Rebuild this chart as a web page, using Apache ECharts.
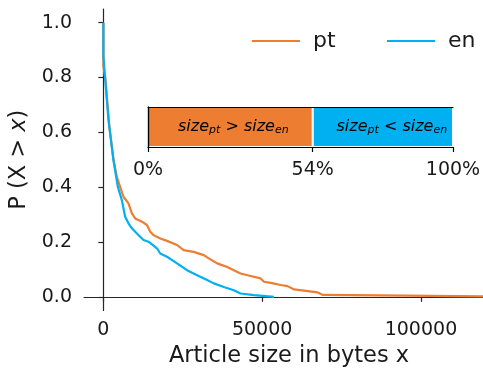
<!DOCTYPE html>
<html>
<head>
<meta charset="utf-8">
<script src="https://cdn.jsdelivr.net/npm/echarts@6/dist/echarts.min.js"></script>
<style>
  html, body { margin: 0; padding: 0; background: #fff; }
  #chart { width: 483px; height: 371px; }
</style>
</head>
<body>
<div id="chart"></div>
<script>
// Survival function P(X > x) of article sizes (bytes) for pt and en
const ptSize = [0, 0, 0, 600, 1900, 3200, 3700, 4230, 5280, 6320, 7900, 8970, 10020, 12140, 13720, 14760, 15800, 17920, 20030, 23200, 25280, 28440, 31600, 33190, 35840, 39000, 41090, 43200, 46370, 49530, 50570, 52650, 55850, 58000, 60040, 67450, 69030, 95000, 122000];
const ptProb = [1.0, 0.876, 0.84, 0.80, 0.62, 0.50, 0.47, 0.438, 0.401, 0.365, 0.341, 0.304, 0.286, 0.274, 0.262, 0.237, 0.225, 0.213, 0.204, 0.189, 0.170, 0.164, 0.152, 0.140, 0.122, 0.109, 0.097, 0.085, 0.076, 0.067, 0.055, 0.051, 0.043, 0.039, 0.027, 0.016, 0.007, 0.004, 0.001];

const enSize = [0, 0, 540, 1600, 3160, 4550, 5800, 6860, 7900, 8970, 10560, 12640, 14220, 16880, 17920, 20030, 23200, 26350, 29520, 32680, 34770, 37930, 41090, 43200, 47400, 53730];
const enProb = [1.0, 0.876, 0.874, 0.645, 0.499, 0.401, 0.353, 0.292, 0.268, 0.250, 0.231, 0.207, 0.201, 0.177, 0.158, 0.146, 0.122, 0.097, 0.079, 0.061, 0.049, 0.036, 0.024, 0.012, 0.006, 0.0];

const yTicks = [0, 0.2, 0.4, 0.6, 0.8, 1.0];
const xTicks = [0, 50000, 100000];

// Share of article pairs where one edition is longer than the other (%)
const shareLabels = ['pt', 'en'];
const shareValues = [54, 46];
const shareTicks = [0, 54, 100];

const ORANGE = '#ED7D31';
const BLUE = '#00B0F0';
const INK = '#1a1a1a';
const FONT = 'DejaVu Sans';

const pairs = (xs, ys) => xs.map((x, i) => [x, ys[i]]);

const legendIcon = 'path://M0,0 L48,0 L48,2 L0,2 Z';
const legendBase = {
  top: 25, itemWidth: 48, itemHeight: 2, icon: legendIcon,
  textStyle: { fontFamily: FONT, fontSize: 22, color: INK, padding: [0, 0, 0, 8] },
  selectedMode: false
};

const subRich = {
  i: { fontFamily: FONT, fontStyle: 'italic', fontSize: 16, color: '#000' },
  s: { fontFamily: FONT, fontStyle: 'italic', fontSize: 11, color: '#000', verticalAlign: 'bottom', padding: [7, 0, 0, 0] }
};

const chart = echarts.init(document.getElementById('chart'), null, { renderer: 'canvas' });

chart.setOption({
  animation: false,
  backgroundColor: '#fff',
  textStyle: { fontFamily: FONT },
  legend: [
    Object.assign({ left: 247, data: ['pt'] }, legendBase),
    Object.assign({ left: 382, data: ['en'] }, legendBase)
  ],
  grid: [
    { left: 84, top: 9, right: -11, bottom: 60.5, containLabel: false, outerBoundsMode: 'none' },
    { left: 148, top: 107, width: 305, height: 40, containLabel: false, outerBoundsMode: 'none' }
  ],
  xAxis: [
    {
      gridIndex: 0, type: 'value', min: -6100, max: 123000,
      name: 'Article size in bytes x', nameLocation: 'middle', nameGap: 33,
      nameTextStyle: { fontFamily: FONT, fontSize: 22.5, color: INK },
      axisLine: { show: true, lineStyle: { color: '#262626', width: 1.2 } },
      axisTick: { show: true, length: 5, customValues: xTicks, lineStyle: { color: '#262626', width: 1.2 } },
      axisLabel: { customValues: xTicks, fontFamily: FONT, fontSize: 19, color: INK, margin: 10, formatter: v => String(v) },
      splitLine: { show: false }
    },
    {
      gridIndex: 1, type: 'value', min: 0, max: 100, position: 'bottom', z: 10,
      axisLine: { show: true, lineStyle: { color: '#000', width: 1.2 } },
      axisTick: { show: true, length: 5, customValues: shareTicks, lineStyle: { color: '#000', width: 1.2 } },
      axisLabel: { customValues: shareTicks, fontFamily: FONT, fontSize: 19, color: INK, margin: 14, formatter: v => v + '%' },
      splitLine: { show: false }
    },
    {
      gridIndex: 1, type: 'value', min: 0, max: 100, position: 'top', z: 10,
      axisLine: { show: true, lineStyle: { color: '#000', width: 1.2 } },
      axisTick: { show: false }, axisLabel: { show: false }, splitLine: { show: false }
    }
  ],
  yAxis: [
    {
      gridIndex: 0, type: 'value', min: -0.05, max: 1.05,
      name: '{n|P (X > }{it|x}{n|)}', nameLocation: 'middle', nameGap: 46, nameRotate: 90,
      nameTextStyle: {
        rich: {
          n: { fontFamily: FONT, fontSize: 22.5, color: INK },
          it: { fontFamily: FONT, fontSize: 22.5, fontStyle: 'italic', color: INK }
        }
      },
      axisLine: { show: true, lineStyle: { color: '#262626', width: 1.2 } },
      axisTick: { show: true, length: 5, customValues: yTicks, lineStyle: { color: '#262626', width: 1.2 } },
      axisLabel: { customValues: yTicks, fontFamily: FONT, fontSize: 19, color: INK, margin: 12, formatter: v => v.toFixed(1) },
      splitLine: { show: false }
    },
    {
      gridIndex: 1, type: 'category', data: ['share'], position: 'left', z: 10,
      axisLine: { show: true, lineStyle: { color: '#000', width: 1.2 } },
      axisTick: { show: false }, axisLabel: { show: false }, splitLine: { show: false }
    },
    {
      gridIndex: 1, type: 'category', data: ['share'], position: 'right', z: 10,
      axisLine: { show: true, lineStyle: { color: '#000', width: 1.2 } },
      axisTick: { show: false }, axisLabel: { show: false }, splitLine: { show: false }
    }
  ],
  series: [
    {
      name: 'pt', type: 'line', xAxisIndex: 0, yAxisIndex: 0,
      data: pairs(ptSize, ptProb), showSymbol: false, symbol: 'none',
      lineStyle: { color: ORANGE, width: 2.2 }, itemStyle: { color: ORANGE }, z: 2
    },
    {
      name: 'en', type: 'line', xAxisIndex: 0, yAxisIndex: 0,
      data: pairs(enSize, enProb), showSymbol: false, symbol: 'none',
      lineStyle: { color: BLUE, width: 2.2 }, itemStyle: { color: BLUE }, z: 3
    },
    {
      name: shareLabels[0] + ' share', type: 'bar', stack: 'share', xAxisIndex: 1, yAxisIndex: 1,
      barWidth: '100%', data: [shareValues[0]],
      itemStyle: { color: ORANGE, borderColor: '#fff', borderWidth: 1 },
      label: { show: true, position: 'inside', offset: [3, 0], formatter: '{i|size}{s|pt}{i| > size}{s|en}', rich: subRich }
    },
    {
      name: shareLabels[1] + ' share', type: 'bar', stack: 'share', xAxisIndex: 1, yAxisIndex: 1,
      barWidth: '100%', data: [shareValues[1]],
      itemStyle: { color: BLUE, borderColor: '#fff', borderWidth: 1 },
      label: { show: true, position: 'inside', offset: [9, 0], formatter: '{i|size}{s|pt}{i| < size}{s|en}', rich: subRich }
    }
  ]
});
</script>
</body>
</html>
